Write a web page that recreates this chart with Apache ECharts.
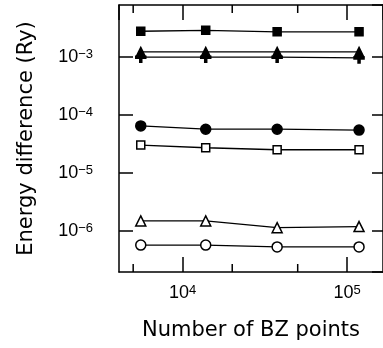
<!DOCTYPE html>
<html>
<head>
<meta charset="utf-8">
<script src="https://cdn.jsdelivr.net/npm/echarts@6/dist/echarts.min.js"></script>
<style>
  html, body { margin: 0; padding: 0; background: #fff; }
  #main { width: 383px; height: 348px; }
</style>
</head>
<body>
<div id="main"></div>
<script>
// number of BZ points
var kPoints = [5560, 13800, 37500, 118000];
// energy differences (Ry)
var filledSquare   = [2.8e-3, 2.9e-3, 2.73e-3, 2.73e-3];
var filledTriangle = [1.23e-3, 1.23e-3, 1.23e-3, 1.23e-3];
var plusMark       = [1.0e-3, 1.0e-3, 1.0e-3, 0.97e-3];
var filledCircle   = [6.5e-5, 5.7e-5, 5.7e-5, 5.5e-5];
var openSquare     = [3.04e-5, 2.73e-5, 2.52e-5, 2.52e-5];
var openTriangle   = [1.49e-6, 1.49e-6, 1.14e-6, 1.19e-6];
var openCircle     = [5.7e-7, 5.7e-7, 5.3e-7, 5.3e-7];
// minor ticks on the x axis
var xMinorTicks = [5000, 20000, 50000];

var X_MIN = 4100, X_MAX = 165000;
var Y_MIN = Math.pow(10, -6.709), Y_MAX = Math.pow(10, -2.1);

var FONT = 'Liberation Sans';
var TITLE_FONT = 'DejaVu Sans';

function pair(ys) {
  return kPoints.map(function (x, i) { return [x, ys[i]]; });
}

// only label the decades, as 10 with a raised exponent
function powLabel(v) {
  var e = Math.log(v) / Math.LN10;
  var r = Math.round(e);
  if (Math.abs(e - r) > 1e-6) return '';
  return '{b|10}{s|' + (r < 0 ? '\u2212' + (-r) : r) + '}';
}

var richLabel = {
  b: { fontSize: 18, fontFamily: FONT, color: '#000', lineHeight: 18 },
  s: { fontSize: 13, fontFamily: FONT, color: '#000', verticalAlign: 'top', lineHeight: 18 }
};

function line(name, ys, symbol, size, filled) {
  return {
    name: name,
    type: 'line',
    data: pair(ys),
    symbol: symbol,
    symbolSize: size,
    showSymbol: true,
    lineStyle: { color: '#000', width: 1.3 },
    itemStyle: { color: filled ? '#000' : '#fff', borderColor: '#000', borderWidth: 1.5 },
    z: 3
  };
}

var plusPath = 'path://M0,4L10,4L10,6L0,6Z M4,0L6,0L6,10L4,10Z';

var myChart = echarts.init(document.getElementById('main'));
var option = {
  backgroundColor: '#fff',
  animation: false,
  grid: { left: 119, top: 5, width: 265, height: 267, containLabel: false },
  xAxis: [{
    type: 'log', logBase: 10, min: X_MIN, max: X_MAX, position: 'bottom',
    name: 'Number of BZ points', nameLocation: 'middle', nameGap: 48,
    nameTextStyle: { fontSize: 21, fontFamily: TITLE_FONT, color: '#000' },
    axisLine: { lineStyle: { color: '#000', width: 1.5 } },
    axisTick: { inside: true, length: 15, lineStyle: { color: '#000', width: 1.5 } },
    axisLabel: {
      formatter: powLabel, rich: richLabel, margin: 12, fontSize: 18, fontFamily: FONT, color: '#000',
      showMinLabel: false, showMaxLabel: false
    },
    splitLine: { show: false }
  }, {
    type: 'log', logBase: 10, min: X_MIN, max: X_MAX, position: 'top',
    axisLine: { lineStyle: { color: '#000', width: 1.5 } },
    axisTick: { inside: true, length: 15, lineStyle: { color: '#000', width: 1.5 } },
    axisLabel: { show: false },
    splitLine: { show: false }
  }],
  yAxis: [{
    type: 'log', logBase: 10, min: Y_MIN, max: Y_MAX, position: 'left',
    name: 'Energy difference (Ry)', nameLocation: 'middle', nameGap: 82,
    nameTextStyle: { fontSize: 21, fontFamily: TITLE_FONT, color: '#000' },
    axisLine: { lineStyle: { color: '#000', width: 1.5 } },
    axisTick: { inside: true, length: 14, lineStyle: { color: '#000', width: 1.5 } },
    axisLabel: {
      formatter: powLabel, rich: richLabel, margin: 26, fontSize: 18, fontFamily: FONT, color: '#000',
      showMinLabel: false, showMaxLabel: false
    },
    splitLine: { show: false }
  }, {
    type: 'log', logBase: 10, min: Y_MIN, max: Y_MAX, position: 'right',
    axisLine: { lineStyle: { color: '#000', width: 1.5 } },
    axisTick: { inside: true, length: 11, lineStyle: { color: '#000', width: 1.5 } },
    axisLabel: { show: false },
    splitLine: { show: false }
  }],
  series: [
    line('filled square', filledSquare, 'rect', 8, true),
    line('filled triangle', filledTriangle, 'triangle', 9, true),
    line('plus', plusMark, plusPath, 10, true),
    line('filled circle', filledCircle, 'circle', 10, true),
    line('open square', openSquare, 'rect', 8, false),
    line('open triangle', openTriangle, 'triangle', 10, false),
    line('open circle', openCircle, 'circle', 10, false),
    {
      // short minor ticks at bottom and top of the frame
      type: 'custom',
      data: xMinorTicks.map(function (v) { return [v, 1e-4]; }),
      renderItem: function (params, api) {
        var x = api.coord([api.value(0), api.value(1)])[0];
        var cs = params.coordSys;
        var st = { stroke: '#000', lineWidth: 1.5 };
        return {
          type: 'group',
          children: [
            { type: 'line', shape: { x1: x, y1: cs.y + cs.height, x2: x, y2: cs.y + cs.height - 8 }, style: st },
            { type: 'line', shape: { x1: x, y1: cs.y, x2: x, y2: cs.y + 8 }, style: st }
          ]
        };
      },
      silent: true,
      z: 2
    }
  ]
};
myChart.setOption(option);
</script>
</body>
</html>
